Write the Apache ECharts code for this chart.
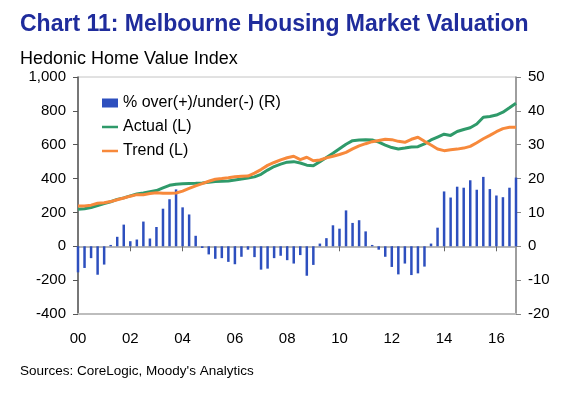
<!DOCTYPE html>
<html>
<head>
<meta charset="utf-8">
<script src="https://cdn.jsdelivr.net/npm/echarts@6/dist/echarts.min.js"></script>
<style>
html,body{margin:0;padding:0;background:#fff;}
#c{width:580px;height:393px;}
</style>
</head>
<body>
<div id="c"></div>
<script>
// Quarterly, 2000Q1 .. 2016Q4
var years = ['00','01','02','03','04','05','06','07','08','09','10','11','12','13','14','15','16'];
var categories = [];
for (var y = 0; y < years.length; y++) { for (var q = 1; q <= 4; q++) categories.push(years[y] + 'Q' + q); }

var overUnder = [-7.7,-6.4,-3.5,-8.4,-5.4,0.4,2.8,6.4,1.5,2.0,7.3,2.3,5.7,11.1,13.9,16.8,
  11.5,9.4,3.1,-0.5,-2.4,-3.7,-3.5,-4.6,-5.3,-3.1,-1.0,-3.2,-6.9,-6.6,-3.5,-2.8,
  -4.1,-5.1,-2.6,-8.7,-5.5,0.8,2.4,6.2,5.2,10.6,6.9,7.7,4.4,0.4,-1.0,-3.1,
  -6.1,-8.3,-5.1,-8.5,-8.0,-6.0,0.8,5.5,16.2,14.4,17.6,17.3,19.5,16.7,20.5,16.9,
  15.0,14.5,17.3,20.3];

var actual = [219,222,229,240,252,263,277,286,298,309,315,322,329,345,360,367,
  369,371,372,374,378,382,384,386,392,398,404,410,425,450,471,485,
  497,500,492,479,476,500,525,549,576,603,624,628,630,628,615,598,
  583,575,580,586,588,605,628,645,662,655,678,690,700,722,762,767,
  775,792,818,845];

var trend = [238,238,243,254,257,264,275,285,296,305,305,312,316,314,313,315,
  326,342,357,370,384,396,400,405,411,413,415,432,453,478,495,510,
  523,532,512,526,505,510,522,532,542,555,575,593,606,618,625,632,
  630,620,614,632,644,620,598,575,565,570,574,580,590,612,635,655,
  677,695,703,703];

var leftTicks = {min:-400, max:1000, interval:200};
var rightTicks = {min:-20, max:50, interval:10};

var FONT = '"Liberation Sans", Arial, sans-serif';
// legend icon: a thin horizontal stroke (tiny corner specks fix the bounding box)
var LINE_ICON = 'path://M0,0L0.01,0L0,0.01Z M0,3.3L16,3.3L16,5.7L0,5.7Z M15.99,9L16,9L16,8.99Z';
var chart = echarts.init(document.getElementById('c'), null, {renderer:'canvas'});
chart.setOption({
  animation: false,
  textStyle: {fontFamily: FONT},
  title: [
    {text: 'Chart 11: Melbourne Housing Market Valuation', left: 20, top: 13, padding: 0,
     textStyle: {fontFamily: FONT, fontSize: 23, fontWeight: 'bold', color: '#1f2c9c'}},
    {text: 'Hedonic Home Value Index', left: 20, top: 50, padding: 0,
     textStyle: {fontFamily: FONT, fontSize: 18, fontWeight: 'normal', color: '#000'}},
    {text: "Sources: CoreLogic, Moody's Analytics", left: 20, top: 364, padding: 0,
     textStyle: {fontFamily: FONT, fontSize: 13.5, fontWeight: 'normal', color: '#000'}}
  ],
  legend: {
    orient: 'vertical', left: 102, top: 95, padding: 0, itemWidth: 16, itemHeight: 9, itemGap: 8,
    textStyle: {fontFamily: FONT, fontSize: 16, color: '#000'},
    data: [
      {name: '% over(+)/under(-) (R)', icon: 'rect'},
      {name: 'Actual (L)', icon: LINE_ICON},
      {name: 'Trend (L)', icon: LINE_ICON}
    ]
  },
  grid: {left: 78, right: 64, top: 77, bottom: 79, show: true, borderColor: '#c4c4c4', borderWidth: 1},
  xAxis: [
    {type: 'category', data: categories, boundaryGap: false, position: 'bottom',
     axisLine: {onZero: false, lineStyle: {color: '#bdbdbd', width: 2}},
     axisTick: {show: false},
     axisLabel: {interval: 7, margin: 17, fontSize: 15, color: '#000', fontFamily: FONT,
       formatter: function (v) { return v.slice(0, 2); }},
     splitLine: {show: false}},
    {type: 'category', data: categories, boundaryGap: false, position: 'top',
     axisLine: {onZero: true, onZeroAxisIndex: 0, lineStyle: {color: '#a0a0a0', width: 1.5}},
     axisTick: {show: true, interval: 7, inside: true, length: 5, lineStyle: {color: '#666'}},
     axisLabel: {show: false}, splitLine: {show: false}}
  ],
  yAxis: [
    {type: 'value', position: 'left', min: leftTicks.min, max: leftTicks.max, interval: leftTicks.interval,
     axisLine: {show: true, lineStyle: {color: '#555', width: 1.5}},
     axisTick: {show: true, length: 5, lineStyle: {color: '#555'}},
     axisLabel: {margin: 12, fontSize: 15, color: '#000', fontFamily: FONT,
       formatter: function (v) { return v === 1000 ? '1,000' : String(v); }},
     splitLine: {show: false}},
    {type: 'value', position: 'right', min: rightTicks.min, max: rightTicks.max, interval: rightTicks.interval,
     axisLine: {show: true, lineStyle: {color: '#888', width: 1.5}},
     axisTick: {show: true, length: 5, lineStyle: {color: '#888'}},
     axisLabel: {margin: 12, fontSize: 15, color: '#000', fontFamily: FONT},
     splitLine: {show: false}}
  ],
  series: [
    {name: '% over(+)/under(-) (R)', type: 'bar', xAxisIndex: 0, yAxisIndex: 1, data: overUnder,
     barWidth: 2.5, itemStyle: {color: '#2d4fbe'}},
    {name: 'Actual (L)', type: 'line', xAxisIndex: 0, yAxisIndex: 0, data: actual, symbol: 'none',
     lineStyle: {color: '#2f9a6a', width: 3}, itemStyle: {color: '#2f9a6a'}},
    {name: 'Trend (L)', type: 'line', xAxisIndex: 0, yAxisIndex: 0, data: trend, symbol: 'none',
     lineStyle: {color: '#f7893b', width: 3}, itemStyle: {color: '#f7893b'}}
  ]
});
</script>
</body>
</html>
